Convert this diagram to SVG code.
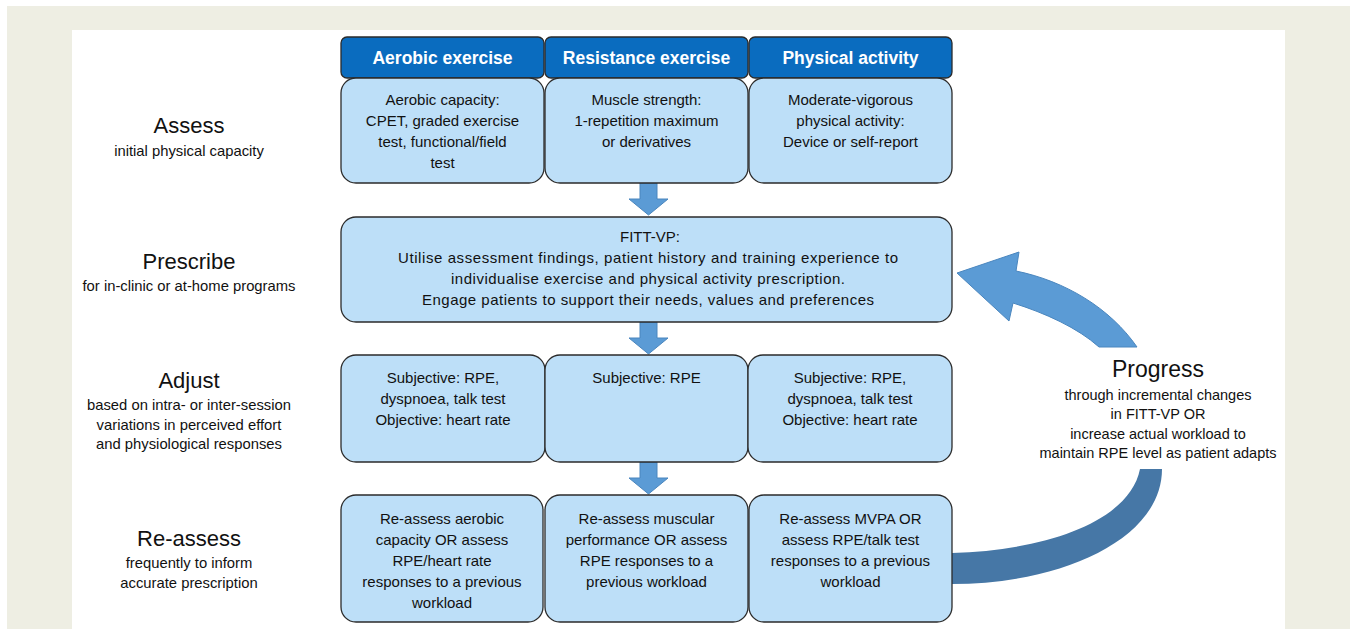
<svg xmlns="http://www.w3.org/2000/svg" width="1352" height="629" viewBox="0 0 1352 629">
<style>
.box{fill:#BDDFF8;stroke:#2b2b2b;stroke-width:1.3}
.hdr{fill:#0A6CBF;stroke:#2b2b2b;stroke-width:1.3}
.ht{font-family:"Liberation Sans",Arial,sans-serif;font-size:17.5px;font-weight:bold;fill:#fff;text-anchor:middle}
.bt{font-family:"Liberation Sans",Arial,sans-serif;font-size:15px;fill:#111;text-anchor:middle}
.lt{font-family:"Liberation Sans",Arial,sans-serif;font-size:22px;fill:#111;text-anchor:middle}
.ls{font-family:"Liberation Sans",Arial,sans-serif;font-size:14.8px;fill:#111;text-anchor:middle}
.ps{font-family:"Liberation Sans",Arial,sans-serif;font-size:14.5px;fill:#111;text-anchor:middle}
.dn{fill:#5B9BD5;stroke:#4A86BE;stroke-width:1}
</style>
<rect x="0" y="0" width="1352" height="629" fill="#ffffff"/>
<rect x="7" y="6" width="1343" height="623" fill="#EEEEE3"/>
<rect x="72" y="30" width="1213" height="599" fill="#ffffff"/>

<g id="labels">
<g id="label-assess"><text class="lt" x="189" y="133">Assess</text><text class="ls" x="189" y="156">initial physical capacity</text></g>
<g id="label-prescribe"><text class="lt" x="189" y="269">Prescribe</text><text class="ls" x="189" y="291">for in-clinic or at-home programs</text></g>
<g id="label-adjust"><text class="lt" x="189" y="388">Adjust</text><text class="ls" x="189" y="410">based on intra- or inter-session</text><text class="ls" x="189" y="430">variations in perceived effort</text><text class="ls" x="189" y="449">and physiological responses</text></g>
<g id="label-reassess"><text class="lt" x="189" y="546">Re-assess</text><text class="ls" x="189" y="568">frequently to inform</text><text class="ls" x="189" y="588">accurate prescription</text></g>
</g>

<g id="connectors">
<path id="progress-lower" d="M1140,469 L1162,469 C1162,540 1060,584 952,584 L952,553 C1050,550 1130,520 1140,469 Z" fill="#4677A6"/>
<path id="progress-upper" d="M1016,271 L1019,252 L957,273 L1009,321 L1013,303 C1045,313 1078,328 1099,347 L1137,347 C1110,308 1065,281 1016,271 Z" fill="#5B9BD5" stroke="#4A86BE" stroke-width="1"/>
<path class="dn" d="M640,183 L657,183 L657,199 L668,199 L648.5,215 L629,199 L640,199 Z"/>
<path class="dn" d="M640,322 L657,322 L657,338 L668,338 L648.5,354 L629,338 L640,338 Z"/>
<path class="dn" d="M640,462 L657,462 L657,478 L668,478 L648.5,494 L629,478 L640,478 Z"/>
</g>

<g id="hdr-aerobic"><rect class="hdr" x="341" y="37" width="203" height="41" rx="6"/><text class="ht" x="442.5" y="64">Aerobic exercise</text></g>
<g id="hdr-resistance"><rect class="hdr" x="545" y="37" width="203" height="41" rx="6"/><text class="ht" x="646.5" y="64">Resistance exercise</text></g>
<g id="hdr-physical"><rect class="hdr" x="749" y="37" width="203" height="41" rx="6"/><text class="ht" x="850.5" y="64">Physical activity</text></g>

<g id="assess-aerobic"><rect class="box" x="341" y="78" width="203" height="105" rx="15"/>
<text class="bt" x="442.5" y="105">Aerobic capacity:</text><text class="bt" x="442.5" y="126">CPET, graded exercise</text><text class="bt" x="442.5" y="147">test, functional/field</text><text class="bt" x="442.5" y="168">test</text></g>
<g id="assess-resistance"><rect class="box" x="545" y="78" width="203" height="105" rx="15"/>
<text class="bt" x="646.5" y="105">Muscle strength:</text><text class="bt" x="646.5" y="126">1-repetition maximum</text><text class="bt" x="646.5" y="147">or derivatives</text></g>
<g id="assess-physical"><rect class="box" x="749" y="78" width="203" height="105" rx="15"/>
<text class="bt" x="850.5" y="105">Moderate-vigorous</text><text class="bt" x="850.5" y="126">physical activity:</text><text class="bt" x="850.5" y="147">Device or self-report</text></g>

<g id="prescribe"><rect class="box" x="341" y="217" width="611" height="105" rx="15"/>
<text class="bt" x="650" y="242">FITT-VP:</text>
<text class="bt" x="648" y="263" textLength="500" lengthAdjust="spacing">Utilise assessment findings, patient history and training experience to</text>
<text class="bt" x="648" y="284" textLength="394" lengthAdjust="spacing">individualise exercise and physical activity prescription.</text>
<text class="bt" x="648" y="305" textLength="452" lengthAdjust="spacing">Engage patients to support their needs, values and preferences</text></g>

<g id="adjust-aerobic"><rect class="box" x="341" y="355" width="204" height="107" rx="15"/>
<text class="bt" x="443" y="383">Subjective:  RPE,</text><text class="bt" x="443" y="404">dyspnoea, talk test</text><text class="bt" x="443" y="425">Objective:  heart rate</text></g>
<g id="adjust-resistance"><rect class="box" x="545" y="355" width="203" height="107" rx="15"/>
<text class="bt" x="646.5" y="383">Subjective:  RPE</text></g>
<g id="adjust-physical"><rect class="box" x="748" y="355" width="204" height="107" rx="15"/>
<text class="bt" x="850" y="383">Subjective:  RPE,</text><text class="bt" x="850" y="404">dyspnoea, talk test</text><text class="bt" x="850" y="425">Objective:  heart rate</text></g>

<g id="reassess-aerobic"><rect class="box" x="341" y="495" width="202" height="127" rx="15"/>
<text class="bt" x="442" y="524">Re-assess aerobic</text><text class="bt" x="442" y="545">capacity OR assess</text><text class="bt" x="442" y="566">RPE/heart rate</text><text class="bt" x="442" y="587">responses to a previous</text><text class="bt" x="442" y="608">workload</text></g>
<g id="reassess-resistance"><rect class="box" x="545" y="495" width="203" height="127" rx="15"/>
<text class="bt" x="646.5" y="524">Re-assess muscular</text><text class="bt" x="646.5" y="545">performance  OR assess</text><text class="bt" x="646.5" y="566">RPE responses to a</text><text class="bt" x="646.5" y="587">previous workload</text></g>
<g id="reassess-physical"><rect class="box" x="749" y="495" width="203" height="127" rx="15"/>
<text class="bt" x="850.5" y="524">Re-assess MVPA OR</text><text class="bt" x="850.5" y="545">assess RPE/talk test</text><text class="bt" x="850.5" y="566">responses to a previous</text><text class="bt" x="850.5" y="587">workload</text></g>

<g id="progress-label">
<text class="lt" x="1158" y="377" style="font-size:23px">Progress</text>
<text class="ps" x="1158" y="400">through incremental changes</text>
<text class="ps" x="1158" y="419">in FITT-VP OR</text>
<text class="ps" x="1158" y="439">increase actual workload to</text>
<text class="ps" x="1158" y="458">maintain RPE level as patient adapts</text>
</g>
</svg>
